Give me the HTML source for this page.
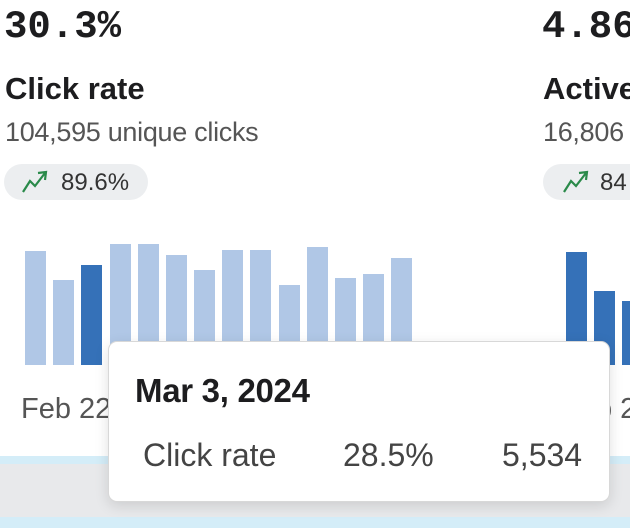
<!DOCTYPE html>
<html><head><meta charset="utf-8"><style>
body{margin:0;width:630px;height:528px;overflow:hidden;background:#fff;position:relative;font-family:"Liberation Sans",sans-serif}
.a{position:absolute;white-space:nowrap}
.big{font-family:"Liberation Mono",monospace;font-weight:bold;font-size:39px;color:#1d1d1f;top:5px}
.t{font-weight:bold;font-size:31px;color:#1d1d1f;top:71px}
.s{font-size:27px;color:#555;top:117px}
.pill{top:164px;height:36px;background:#eceef0;border-radius:18px}
.pt{font-size:24px;color:#333;top:169px}
.bar{position:absolute;width:21px;bottom:163px;background:#b0c7e6}
.d{background:#3571b8}
</style></head><body>
<div class="a big" style="left:4px">30.3%</div>
<div class="a big" style="left:542px">4.86</div>
<div class="a t" style="left:5px">Click rate</div>
<div class="a t" style="left:543px">Active</div>
<div class="a s" style="left:5px;letter-spacing:-0.3px">104,595 unique clicks</div>
<div class="a s" style="left:543px;letter-spacing:-0.3px">16,806</div>
<div class="a pill" style="left:4px;width:144px"></div>
<div class="a pill" style="left:543px;width:120px"></div>
<svg class="a" style="left:20px;top:168px" width="30" height="28"><path d="M3 24 L10 13 L15 18 L25 5 M18 5 L26 4 L25 12" fill="none" stroke="#2a8a4a" stroke-width="2.2"/></svg>
<svg class="a" style="left:561px;top:168px" width="30" height="28"><path d="M3 24 L10 13 L15 18 L25 5 M18 5 L26 4 L25 12" fill="none" stroke="#2a8a4a" stroke-width="2.2"/></svg>
<div class="a pt" style="left:61px">89.6%</div>
<div class="a pt" style="left:600px">84</div>

<div class="bar" style="left:25px;height:114px"></div>
<div class="bar" style="left:53px;height:85px"></div>
<div class="bar d" style="left:81px;height:100px"></div>
<div class="bar" style="left:110px;height:121px"></div>
<div class="bar" style="left:138px;height:121px"></div>
<div class="bar" style="left:166px;height:110px"></div>
<div class="bar" style="left:194px;height:95px"></div>
<div class="bar" style="left:222px;height:115px"></div>
<div class="bar" style="left:250px;height:115px"></div>
<div class="bar" style="left:279px;height:80px"></div>
<div class="bar" style="left:307px;height:118px"></div>
<div class="bar" style="left:335px;height:87px"></div>
<div class="bar" style="left:363px;height:91px"></div>
<div class="bar" style="left:391px;height:107px"></div>
<div class="bar d" style="left:566px;height:113px"></div>
<div class="bar d" style="left:594px;height:74px"></div>
<div class="bar d" style="left:622px;height:64px"></div>

<div class="a" style="left:21px;top:393px;font-size:29px;color:#555">Feb 22</div>
<div class="a" style="left:596px;top:393px;font-size:29px;color:#555">b 22</div>

<div class="a" style="left:0;top:456px;width:630px;height:8px;background:#d4edf8"></div>
<div class="a" style="left:0;top:464px;width:630px;height:53px;background:#e8e9eb"></div>
<div class="a" style="left:0;top:517px;width:630px;height:11px;background:#d4edf8"></div>

<div class="a" style="left:108px;top:341px;width:500px;height:159px;background:#fff;border:1px solid #d8d8d8;border-radius:9px;box-shadow:0 4px 14px rgba(0,0,0,0.12)"></div>
<div class="a" style="left:135px;top:372px;font-size:33px;font-weight:bold;color:#1d1d1f;letter-spacing:-0.3px">Mar 3, 2024</div>
<div class="a" style="left:143px;top:437px;font-size:32px;color:#444">Click rate</div>
<div class="a" style="left:343px;top:437px;font-size:32px;color:#444">28.5%</div>
<div class="a" style="left:502px;top:437px;font-size:32px;color:#444">5,534</div>
</body></html>
